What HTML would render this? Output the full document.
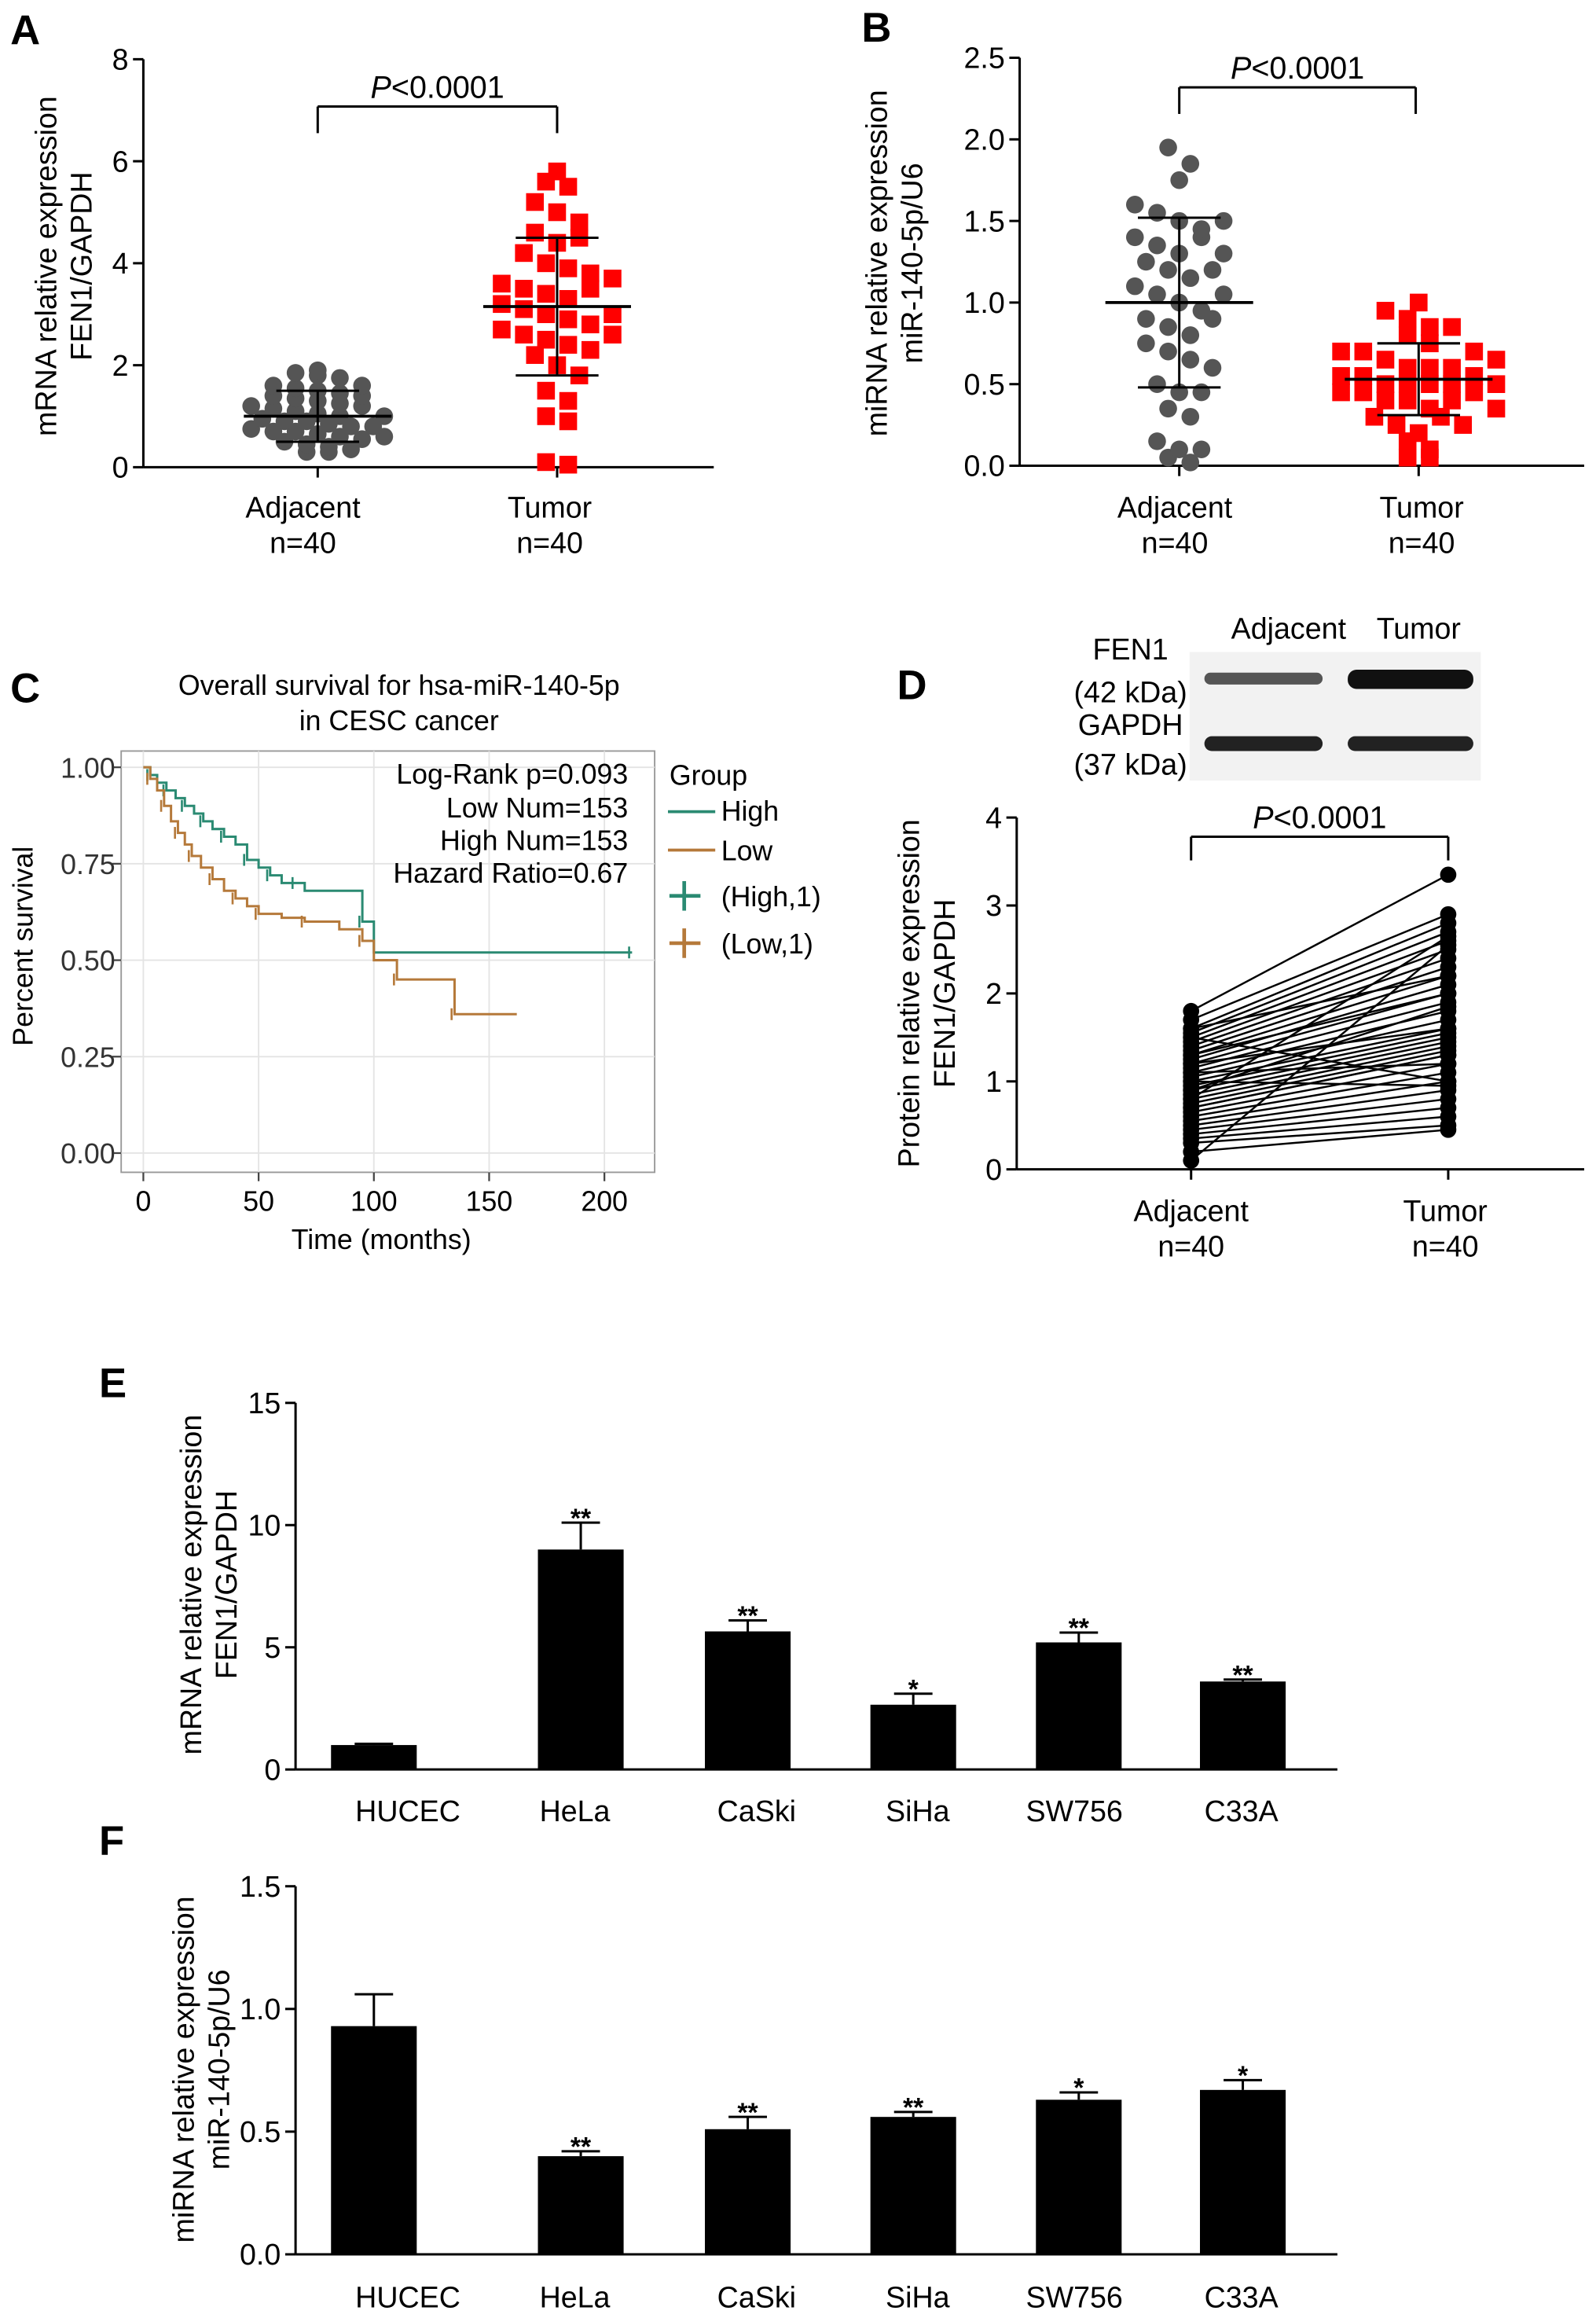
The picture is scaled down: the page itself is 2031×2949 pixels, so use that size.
<!DOCTYPE html>
<html><head><meta charset="utf-8"><style>
body{margin:0;background:#fff}
svg{display:block;font-family:"Liberation Sans",Arial,sans-serif}
</style></head><body>
<svg id="s" width="2031" height="2949" viewBox="0 0 1080 1568" xmlns="http://www.w3.org/2000/svg"></svg>
<script>
// ---- data ----
const aAdj=[1.85,1.8,1.75,1.9,1.6,1.55,1.5,1.45,1.4,1.35,1.3,1.25,1.2,1.15,1.1,1.05,1.0,0.95,0.9,0.9,0.85,0.8,0.75,0.7,0.7,0.65,0.6,0.55,0.5,0.45,0.4,0.35,0.3,0.3,1.6,1.2,1.0,0.8,0.6,1.4];
const aTum=[5.8,5.6,5.5,5.2,5.0,4.8,4.6,4.4,4.2,4.0,3.9,3.8,3.6,3.5,3.4,3.3,3.2,3.1,3.0,2.9,2.8,2.7,2.6,2.5,2.4,2.3,2.2,2.0,1.8,1.5,1.3,1.0,0.9,0.1,0.05,3.5,3.0,4.5,2.6,3.7];
const aMean=[1.0,3.15], aSD=[0.5,1.35];
const bAdj=[1.95,1.85,1.75,1.6,1.55,1.5,1.45,1.4,1.35,1.3,1.25,1.2,1.15,1.1,1.05,1.0,0.95,0.9,0.85,0.8,0.75,0.7,0.65,0.5,0.45,0.35,0.3,0.15,0.1,0.05,0.02,1.5,1.4,1.3,1.2,0.9,0.6,0.45,0.1,1.05];
const bTum=[1.0,0.95,0.9,0.85,0.8,0.75,0.7,0.7,0.65,0.6,0.6,0.55,0.55,0.5,0.5,0.5,0.45,0.45,0.4,0.4,0.35,0.3,0.25,0.2,0.15,0.05,0.05,0.6,0.5,0.4,0.3,0.7,0.55,0.45,0.65,0.35,0.25,0.1,0.85,0.5];
const bMean=[1.0,0.53], bSD=[0.52,0.22];
const kmHighT=[0,3,6,10,14,18,22,26,30,35,40,45,50,55,60,66,70,95,100,212];
const kmHighS=[1,0.98,0.96,0.94,0.92,0.9,0.88,0.86,0.84,0.82,0.8,0.76,0.74,0.72,0.7,0.7,0.68,0.6,0.52,0.52];
const kmLowT=[0,3,6,9,12,15,18,21,25,30,35,40,45,50,60,70,85,95,100,110,130,135,162];
const kmLowS=[1,0.97,0.94,0.9,0.86,0.83,0.8,0.77,0.74,0.71,0.68,0.66,0.64,0.62,0.61,0.6,0.58,0.55,0.5,0.45,0.45,0.36,0.36];
const dAdj=[1.8,1.7,1.6,1.55,1.5,1.45,1.4,1.35,1.3,1.25,1.2,1.15,1.1,1.05,1.0,0.95,0.9,0.85,0.8,0.75,0.7,0.65,0.6,0.55,0.5,0.45,0.4,0.35,0.3,0.2,0.1,1.3,1.2,1.1,1.0,0.9,0.8,0.7,1.5,1.6];
const dTum=[3.35,2.9,2.8,2.7,2.6,2.5,2.4,2.3,2.2,2.1,2.0,1.9,1.8,1.7,1.6,1.55,1.5,1.45,1.4,1.35,1.3,1.2,1.1,1.0,0.9,0.8,0.7,0.6,0.5,0.45,2.55,2.0,1.6,1.2,0.95,1.85,2.65,1.3,1.0,2.2];
const cells=["HUCEC","HeLa","CaSki","SiHa","SW756","C33A"];
const eVals=[1.0,9.0,5.65,2.65,5.2,3.6], eErr=[0.05,1.1,0.45,0.45,0.4,0.08], eSig=["","**","**","*","**","**"];
const fVals=[0.93,0.4,0.51,0.56,0.63,0.67], fErr=[0.13,0.02,0.05,0.02,0.03,0.04], fSig=["","**","**","**","*","*"];

const S=document.getElementById('s');
function el(t,a,txt){const e=document.createElementNS('http://www.w3.org/2000/svg',t);for(const k in a)e.setAttribute(k,a[k]);if(txt!==undefined)e.textContent=txt;S.appendChild(e);return e;}
function line(x1,y1,x2,y2,w,c){return el('line',{x1,y1,x2,y2,stroke:c||'#000','stroke-width':w||1.6});}
function text(x,y,t,sz,anc,extra){const e=el('text',Object.assign({x,y,'font-size':sz||20,'text-anchor':anc||'middle',fill:'#000'},extra||{}),t);return e;}
function nm(e,n){return e;}
function yaxis(x,y0,y1,min,max,ticks,fmt,sz){nm(line(x,y0,x,y1),'y-axis');const f=v=>y0-(v-min)/(max-min)*(y0-y1);
 ticks.forEach(t=>{line(x-7,f(t),x,f(t));nm(text(x-10,f(t)+7,fmt(t),sz||20,'end'),'y-tick-label');});return f;}
function ytitle(x,y,l1,l2,sz){const g=text(0,0,'',sz||20);g.setAttribute('transform',`translate(${x},${y}) rotate(-90)`);
 const t1=document.createElementNS('http://www.w3.org/2000/svg','tspan');t1.setAttribute('x',0);t1.setAttribute('dy',0);t1.textContent=l1;g.appendChild(t1);
 if(l2){const t2=document.createElementNS('http://www.w3.org/2000/svg','tspan');t2.setAttribute('x',0);t2.setAttribute('dy',24);t2.textContent=l2;g.appendChild(t2);}nm(g,'y-axis-title');}
function panel(x,y,l){nm(text(x,y,l,28,'start',{'font-weight':'bold'}),'panel-label-'+l.toLowerCase());}
function swarm(vals,cx,f,binW,draw){const bins={};vals.forEach(v=>{const b=Math.round(v/binW);(bins[b]=bins[b]||[]).push(v);});
 Object.values(bins).forEach(arr=>{arr.forEach((v,i)=>{const off=(i-(arr.length-1)/2)*15;draw(cx+off,f(v));});});}
function meanSD(cx,f,m,sd){line(cx-50,f(m),cx+50,f(m),2);line(cx,f(m-sd),cx,f(m+sd),1.6);line(cx-28,f(m-sd),cx+28,f(m-sd),1.6);line(cx-28,f(m+sd),cx+28,f(m+sd),1.6);}
function sigBracket(x1,x2,y,h){line(x1,y,x2,y);line(x1,y,x1,y+h);line(x2,y,x2,y+h);const t=text((x1+x2)/2,y-6,'',21);t.innerHTML='<tspan font-style="italic">P</tspan>&lt;0.0001';nm(t,'p-value');}
function xcat(x,y,l1,l2){nm(text(x,y,l1,20),'x-tick-label');nm(text(x,y+24,l2,20),'x-tick-label');}

// ---- Panel A ----
panel(7,30,'A');
let fA=yaxis(97,316,40,0,8,[0,2,4,6,8],v=>v);
nm(line(97,316,483,316),'x-axis');[215,377].forEach(x=>line(x,316,x,323));
ytitle(38,180,'mRNA relative expression','FEN1/GAPDH');
swarm(aAdj,215,fA,0.22,(x,y)=>{const c=el('circle',{cx:x,cy:y,r:6,fill:'#555'});});
swarm(aTum,377,fA,0.5,(x,y)=>{const r=el('rect',{x:x-6,y:y-6,width:12,height:12,fill:'#f00'});});
meanSD(215,fA,aMean[0],aSD[0]);meanSD(377,fA,aMean[1],aSD[1]);
sigBracket(215,377,72,18);
xcat(205,350,'Adjacent','n=40');xcat(372,350,'Tumor','n=40');

// ---- Panel B ----
panel(583,28,'B');
let fB=yaxis(690,315,39,0,2.5,[0,0.5,1,1.5,2,2.5],v=>v.toFixed(1));
nm(line(690,315,1072,315),'x-axis');[798,960].forEach(x=>line(x,315,x,322));
ytitle(600,178,'miRNA relative expression','miR-140-5p/U6');
swarm(bAdj,798,fB,0.17,(x,y)=>{const c=el('circle',{cx:x,cy:y,r:6,fill:'#555'});});
swarm(bTum,960,fB,0.13,(x,y)=>{const r=el('rect',{x:x-6,y:y-6,width:12,height:12,fill:'#f00'});});
meanSD(798,fB,bMean[0],bSD[0]);meanSD(960,fB,bMean[1],bSD[1]);
sigBracket(798,958,59,18);
xcat(795,350,'Adjacent','n=40');xcat(962,350,'Tumor','n=40');

// ---- Panel C ----
panel(7,475,'C');
nm(text(270,470,'Overall  survival for hsa-miR-140-5p',19),'chart-title');
nm(text(270,494,'in CESC cancer',19),'chart-title');
nm(el('rect',{x:82,y:508,width:361,height:285,fill:'#fff',stroke:'#999','stroke-width':1}),'plot-area');
const kx=t=>97+t*1.56, ky=s=>780-s*261;
[0,50,100,150,200].forEach(t=>{line(kx(t),508,kx(t),793,1,'#e4e4e4');line(kx(t),793,kx(t),799,1.2,'#444');nm(text(kx(t),819,String(t),19),'x-tick-label');});
[0,0.25,0.5,0.75,1].forEach(s=>{line(82,ky(s),443,ky(s),1,'#e4e4e4');line(76,ky(s),82,ky(s),1.2,'#444');nm(text(78,ky(s)+7,s.toFixed(2),19,'end',{fill:'#333'}),'y-tick-label');});
nm(text(258,845,'Time (months)',19),'x-axis-title');
const yt=text(0,0,'Percent survival',19);yt.setAttribute('transform','translate(22,640) rotate(-90)');nm(yt,'y-axis-title');
function km(T,Sv,c,n){let d=`M${kx(T[0])},${ky(Sv[0])}`;for(let i=1;i<T.length;i++){d+=`H${kx(T[i])}V${ky(Sv[i])}`;}
 nm(el('path',{d,fill:'none',stroke:c,'stroke-width':1.6}),n);
 for(let i=1;i<T.length;i+=2){line(kx(T[i])-2,ky(Sv[i])-4,kx(T[i])-2,ky(Sv[i])+4,1.4,c);}}
km(kmHighT,kmHighS,'#2a8a72','km-high');km(kmLowT,kmLowS,'#b5793a','km-low');
[['Log-Rank p=0.093',530],['Low Num=153',553],['High Num=153',575],['Hazard Ratio=0.67',597]].forEach(([t,y])=>nm(text(425,y,t,19,'end'),'stats-text'));
nm(text(453,531,'Group',19,'start'),'legend-title');
line(452,549,484,549,2,'#2a8a72');nm(text(488,555,'High',19,'start'),'legend-entry');
line(452,575,484,575,2,'#b5793a');nm(text(488,582,'Low',19,'start'),'legend-entry');
line(453,606,474,606,2.5,'#2a8a72');line(463,596,463,616,2.5,'#2a8a72');nm(text(488,613,'(High,1)',19,'start'),'legend-entry');
line(453,638,474,638,2.5,'#b5793a');line(463,628,463,648,2.5,'#b5793a');nm(text(488,645,'(Low,1)',19,'start'),'legend-entry');

// ---- Panel D ----
panel(607,473,'D');
nm(text(872,432,'Adjacent',20),'blot-label');nm(text(960,432,'Tumor',20),'blot-label');
nm(el('rect',{x:805,y:441,width:197,height:87,fill:'#f2f2f2'}),'western-blot');
nm(el('rect',{x:815,y:455,width:80,height:8,rx:4,fill:'#555'}),'band-fen1-adjacent');
nm(el('rect',{x:912,y:453,width:85,height:13,rx:6,fill:'#111'}),'band-fen1-tumor');
nm(el('rect',{x:815,y:498,width:80,height:10,rx:5,fill:'#222'}),'band-gapdh-adjacent');
nm(el('rect',{x:912,y:498,width:85,height:10,rx:5,fill:'#222'}),'band-gapdh-tumor');
[['FEN1',446],['(42 kDa)',475],['GAPDH',497],['(37 kDa)',524]].forEach(([t,y])=>nm(text(765,y,t,20),'blot-label'));
let fD=yaxis(688,791,553,0,4,[0,1,2,3,4],v=>v);
nm(line(688,791,1072,791),'x-axis');[806,980].forEach(x=>line(x,791,x,798));
ytitle(622,672,'Protein relative expression','FEN1/GAPDH');
dAdj.forEach((v,i)=>{nm(line(806,fD(v),980,fD(dTum[i]),1.3),'pair-line');});
dAdj.forEach(v=>nm(el('circle',{cx:806,cy:fD(v),r:5.5,fill:'#000'}),'point-adjacent'));
dTum.forEach(v=>nm(el('circle',{cx:980,cy:fD(v),r:5.5,fill:'#000'}),'point-tumor'));
sigBracket(806,980,566,16);
xcat(806,826,'Adjacent','n=40');xcat(978,826,'Tumor','n=40');

// ---- Bar panels ----
const bx=[253,393,506,618,730,841];
const lx=[276,389,512,621,727,840];
function bars(vals,err,sig,y0,y1,max,ticks,fmt,title1,title2,tx,ty,lbl,lblY,key){
 const f=yaxis(200,y0,y1,0,max,ticks,fmt);
 nm(line(200,y0,905,y0),'x-axis');
 ytitle(tx,ty,title1,title2);
 vals.forEach((v,i)=>{const x=bx[i];nm(el('rect',{x:x-29,y:f(v),width:58,height:y0-f(v),fill:'#000'}),'bar-'+key+'-'+cells[i].toLowerCase());
  const e=f(v+err[i]);line(x,f(v),x,e,1.6);line(x-13,e,x+13,e,1.6);
  if(sig[i])nm(text(x,e+3,sig[i],18,'middle',{'font-weight':'bold'}),'significance-marker');
  nm(text(lx[i],lblY,cells[i],20),'x-tick-label');});
}
panel(67,945,'E');
bars(eVals,eErr,eSig,1197,949,15,[0,5,10,15],v=>v,'mRNA relative expression','FEN1/GAPDH',136,1072,'',1232,'e');
panel(67,1255,'F');
bars(fVals,fErr,fSig,1525,1276,1.5,[0,0.5,1,1.5],v=>v.toFixed(1),'miRNA relative expression','miR-140-5p/U6',131,1400,'',1561,'f');
</script>
</body></html>
